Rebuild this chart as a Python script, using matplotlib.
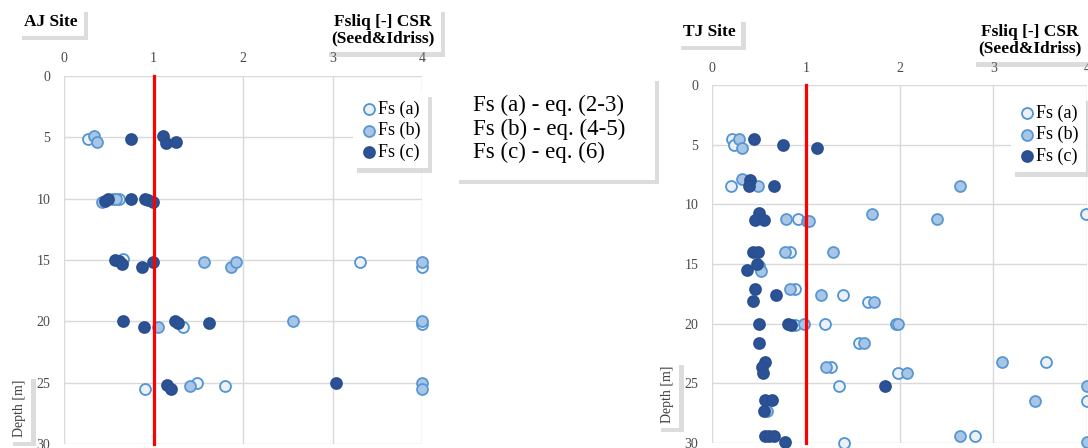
import matplotlib
matplotlib.use('Agg')
import matplotlib.pyplot as plt
import matplotlib.patheffects as pe
from matplotlib.patches import Rectangle

plt.rcParams['font.family'] = ['Liberation Serif', 'DejaVu Serif']

# AJ site - Fs values and depths [m]
aj_a_fs = [0.27, 0.61, 0.66, 3.31, 4.0, 1.33, 4.0, 0.90, 1.49, 1.80]
aj_a_depth = [5.1, 10.0, 14.9, 15.2, 15.6, 20.5, 20.2, 25.5, 25.0, 25.3]
aj_b_fs = [0.33, 0.37, 0.42, 0.55, 0.58, 1.56, 1.87, 1.92, 4.0, 1.05, 2.56, 4.0, 1.41, 4.0, 4.0]
aj_b_depth = [4.9, 5.4, 10.3, 10.0, 10.0, 15.2, 15.6, 15.2, 15.2, 20.5, 20.0, 20.0, 25.3, 25.0, 25.5]
aj_c_fs = [0.75, 1.11, 1.14, 1.25, 0.46, 0.49, 0.75, 0.91, 0.94, 0.99, 0.57, 0.61,
           0.65, 0.87, 0.99, 0.66, 0.89, 1.24, 1.27, 1.62, 1.15, 1.19, 3.04]
aj_c_depth = [5.1, 4.9, 5.5, 5.4, 10.2, 10.0, 10.0, 10.0, 10.1, 10.3, 15.0, 15.1,
              15.3, 15.6, 15.2, 20.0, 20.5, 20.0, 20.1, 20.1, 25.2, 25.5, 25.0]

# TJ site
tj_a_fs = [0.21, 0.23, 0.20, 0.92, 3.99, 0.83, 0.89, 1.40, 1.66, 0.88, 1.20, 1.96, 1.57,
           1.27, 3.56, 1.98, 1.35, 4.0, 1.41, 2.80, 0.50]
tj_a_depth = [4.5, 5.0, 8.5, 11.2, 10.8, 14.0, 17.1, 17.6, 18.2, 20.1, 20.0, 20.0, 21.6,
              23.6, 23.2, 24.1, 25.2, 26.5, 30.0, 29.4, 15.2]
tj_b_fs = [0.29, 0.32, 0.32, 0.49, 0.79, 1.01, 1.03, 1.71, 2.40, 2.64, 0.78, 1.29, 0.52,
           0.83, 1.16, 1.73, 0.98, 1.98, 1.62, 1.22, 3.09, 2.08, 4.0, 3.45, 2.64, 4.0, 0.59]
tj_b_depth = [4.5, 5.3, 7.9, 8.5, 11.2, 11.4, 11.4, 10.8, 11.2, 8.5, 14.0, 14.0, 15.6,
              17.1, 17.6, 18.2, 20.0, 20.0, 21.6, 23.6, 23.2, 24.1, 25.2, 26.5, 29.4, 29.9, 27.3]
tj_c_fs = [0.45, 0.76, 1.12, 0.41, 0.39, 0.66, 0.50, 0.46, 0.55, 0.44, 0.49, 0.48, 0.37,
           0.46, 0.44, 0.68, 0.50, 0.81, 0.84, 0.50, 0.57, 0.53, 0.54, 1.85, 0.57, 0.64,
           0.55, 0.57, 0.61, 0.66, 0.78]
tj_c_depth = [4.5, 5.0, 5.3, 8.0, 8.5, 8.5, 10.7, 11.3, 11.3, 14.0, 14.0, 15.0, 15.5,
              17.1, 18.1, 17.6, 20.0, 20.0, 20.1, 21.6, 23.2, 23.6, 24.1, 25.2, 26.4, 26.4,
              27.3, 29.4, 29.4, 29.4, 29.9]

x_ticks = [0, 1, 2, 3, 4]
y_ticks = [0, 5, 10, 15, 20, 25, 30]
labels = ['Fs (a)', 'Fs (b)', 'Fs (c)']
eq_lines = ['Fs (a) - eq. (2-3)', 'Fs (b) - eq. (4-5)', 'Fs (c) - eq. (6)']

face = ['#edf1f7', '#a7c5e6', '#2c5296']
edge = ['#4f95d6', '#5a97d2', '#2a4f90']

shadow = [pe.withSimplePatchShadow(offset=(3, -3), shadow_rgbFace='#8c8c8c', alpha=0.3)]


def draw_site(ax, series, x_pad, y_pad, leg_anchor):
    for (fs, depth), lab, fc, ec in zip(series, labels, face, edge):
        ax.scatter(fs, depth, s=62, facecolor=fc, edgecolor=ec, linewidths=1.3,
                   label=lab, clip_on=False, zorder=3)
    ax.axvline(1, color='#ff0000', lw=2.3, zorder=4, clip_on=False)
    ax.set_xlim(0, 4)
    ax.set_ylim(30, 0)
    ax.set_xticks(x_ticks)
    ax.set_yticks(y_ticks)
    ax.xaxis.tick_top()
    ax.tick_params(axis='x', length=0, pad=x_pad, labelsize=10, labelcolor='#4a4a4a')
    ax.tick_params(axis='y', length=0, pad=y_pad, labelsize=10, labelcolor='#4a4a4a')
    ax.grid(True, color='#d9d9d9', lw=1)
    ax.set_axisbelow(True)
    for sp in ax.spines.values():
        sp.set_visible(False)
    leg = ax.legend(loc='upper right', bbox_to_anchor=leg_anchor,
                    bbox_transform=ax.figure.transFigure, fancybox=False,
                    shadow=False, framealpha=1, edgecolor='none',
                    fontsize=13, handletextpad=0.0, labelspacing=0.25,
                    borderpad=0.4, handlelength=1.0, markerscale=1.0)
    leg.get_frame().set_path_effects(shadow)
    leg.set_zorder(6)


def boxed(x, y, s, **kw):
    t = fig.text(x, y, s, bbox=dict(boxstyle='square,pad=0.35', fc='white', ec='none'), **kw)
    t.get_bbox_patch().set_path_effects(shadow)
    return t


fig = plt.figure(figsize=(10.88, 4.48), dpi=100)

ax1 = fig.add_axes([64 / 1088, 1 - 444 / 448, (422 - 64) / 1088, (444 - 76) / 448])
draw_site(ax1, [(aj_a_fs, aj_a_depth), (aj_b_fs, aj_b_depth), (aj_c_fs, aj_c_depth)],
          8, 10, (437 / 1088, 1 - 84 / 448))

ax2 = fig.add_axes([712 / 1088, 1 - 443 / 448, (1087 - 712) / 1088, (443 - 85) / 448])
draw_site(ax2, [(tj_a_fs, tj_a_depth), (tj_b_fs, tj_b_depth), (tj_c_fs, tj_c_depth)],
          7, 10, (1095 / 1088, 1 - 88 / 448))

# site titles and axis captions
boxed(51 / 1088, 1 - 22 / 448, 'AJ Site', ha='center', va='center',
      fontsize=12.5, fontweight='bold')
boxed(383 / 1088, 1 - 30 / 448, 'Fsliq [-] CSR\n(Seed&Idriss)', ha='center',
      va='center', fontsize=12.5, fontweight='bold', linespacing=1.05)
boxed(709 / 1088, 1 - 32 / 448, 'TJ Site', ha='center', va='center',
      fontsize=12.5, fontweight='bold')
boxed(1030 / 1088, 1 - 40 / 448, 'Fsliq [-] CSR\n(Seed&Idriss)', ha='center',
      va='center', fontsize=12.5, fontweight='bold', linespacing=1.05)
boxed(20 / 1088, 1 - 408 / 448, 'Depth [m]', ha='center', va='center',
      rotation=90, fontsize=10, color='#404040')
boxed(668 / 1088, 1 - 394 / 448, 'Depth [m]', ha='center', va='center',
      rotation=90, fontsize=10, color='#404040')

# equation note box
note = Rectangle((455 / 1088, 1 - 180 / 448), 200 / 1088, 103 / 448,
                 transform=fig.transFigure, facecolor='white', edgecolor='none', zorder=5)
note.set_path_effects(shadow)
fig.patches.append(note)
fig.text(473 / 1088, 1 - 129 / 448, '\n'.join(eq_lines), ha='left', va='center',
         fontsize=16.5, linespacing=1.15, zorder=6)

fig.savefig('out.png', dpi=100)
